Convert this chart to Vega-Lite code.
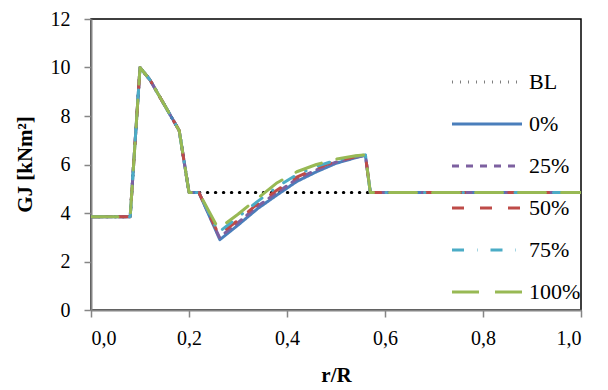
{
  "$schema": "https://vega.github.io/schema/vega-lite/v6.json",
  "width": 490,
  "height": 291,
  "autosize": {"type": "none"},
  "padding": {"left": 91, "top": 19, "right": 27, "bottom": 80},
  "background": "white",
  "config": {
    "view": {"stroke": "#000000", "strokeWidth": 1.5},
    "font": "Liberation Serif",
    "axis": {
      "grid": false,
      "domainColor": "#868686",
      "domainWidth": 2,
      "tickColor": "#868686",
      "tickWidth": 1.5,
      "tickSize": 7,
      "labelFont": "Liberation Serif",
      "labelFontSize": 20,
      "labelColor": "#000000",
      "titleFont": "Liberation Serif",
      "titleFontSize": 21,
      "titleFontWeight": "bold",
      "titleColor": "#000000"
    }
  },
  "data": {
    "values": [
      {"s": "BL", "r": 0, "GJ": 3.85}, {"s": "BL", "r": 0.08, "GJ": 3.85}, {"s": "BL", "r": 0.1, "GJ": 10.0}, {"s": "BL", "r": 0.12, "GJ": 9.5}, {"s": "BL", "r": 0.14, "GJ": 8.8}, {"s": "BL", "r": 0.16, "GJ": 8.1}, {"s": "BL", "r": 0.18, "GJ": 7.4}, {"s": "BL", "r": 0.2, "GJ": 4.85}, {"s": "BL", "r": 1.0, "GJ": 4.85},

      {"s": "0%", "r": 0, "GJ": 3.85}, {"s": "0%", "r": 0.08, "GJ": 3.85}, {"s": "0%", "r": 0.1, "GJ": 10.0}, {"s": "0%", "r": 0.12, "GJ": 9.5}, {"s": "0%", "r": 0.14, "GJ": 8.8}, {"s": "0%", "r": 0.16, "GJ": 8.1}, {"s": "0%", "r": 0.18, "GJ": 7.4}, {"s": "0%", "r": 0.2, "GJ": 4.85}, {"s": "0%", "r": 0.22, "GJ": 4.85},
      {"s": "0%", "r": 0.263, "GJ": 2.9}, {"s": "0%", "r": 0.3, "GJ": 3.5}, {"s": "0%", "r": 0.34, "GJ": 4.18}, {"s": "0%", "r": 0.38, "GJ": 4.75}, {"s": "0%", "r": 0.42, "GJ": 5.3}, {"s": "0%", "r": 0.46, "GJ": 5.7}, {"s": "0%", "r": 0.5, "GJ": 6.05}, {"s": "0%", "r": 0.54, "GJ": 6.28}, {"s": "0%", "r": 0.56, "GJ": 6.38}, {"s": "0%", "r": 0.57, "GJ": 4.85}, {"s": "0%", "r": 1.0, "GJ": 4.85},

      {"s": "25%", "r": 0, "GJ": 3.85}, {"s": "25%", "r": 0.08, "GJ": 3.85}, {"s": "25%", "r": 0.1, "GJ": 10.0}, {"s": "25%", "r": 0.12, "GJ": 9.5}, {"s": "25%", "r": 0.14, "GJ": 8.8}, {"s": "25%", "r": 0.16, "GJ": 8.1}, {"s": "25%", "r": 0.18, "GJ": 7.4}, {"s": "25%", "r": 0.2, "GJ": 4.85}, {"s": "25%", "r": 0.22, "GJ": 4.85},
      {"s": "25%", "r": 0.262, "GJ": 3.0}, {"s": "25%", "r": 0.3, "GJ": 3.6}, {"s": "25%", "r": 0.34, "GJ": 4.28}, {"s": "25%", "r": 0.38, "GJ": 4.85}, {"s": "25%", "r": 0.42, "GJ": 5.4}, {"s": "25%", "r": 0.46, "GJ": 5.78}, {"s": "25%", "r": 0.5, "GJ": 6.1}, {"s": "25%", "r": 0.54, "GJ": 6.3}, {"s": "25%", "r": 0.56, "GJ": 6.38}, {"s": "25%", "r": 0.57, "GJ": 4.85}, {"s": "25%", "r": 1.0, "GJ": 4.85},

      {"s": "50%", "r": 0, "GJ": 3.85}, {"s": "50%", "r": 0.08, "GJ": 3.85}, {"s": "50%", "r": 0.1, "GJ": 10.0}, {"s": "50%", "r": 0.12, "GJ": 9.5}, {"s": "50%", "r": 0.14, "GJ": 8.8}, {"s": "50%", "r": 0.16, "GJ": 8.1}, {"s": "50%", "r": 0.18, "GJ": 7.4}, {"s": "50%", "r": 0.2, "GJ": 4.85}, {"s": "50%", "r": 0.22, "GJ": 4.85},
      {"s": "50%", "r": 0.261, "GJ": 3.1}, {"s": "50%", "r": 0.3, "GJ": 3.7}, {"s": "50%", "r": 0.34, "GJ": 4.38}, {"s": "50%", "r": 0.38, "GJ": 4.95}, {"s": "50%", "r": 0.42, "GJ": 5.48}, {"s": "50%", "r": 0.46, "GJ": 5.85}, {"s": "50%", "r": 0.5, "GJ": 6.14}, {"s": "50%", "r": 0.54, "GJ": 6.32}, {"s": "50%", "r": 0.56, "GJ": 6.39}, {"s": "50%", "r": 0.57, "GJ": 4.85}, {"s": "50%", "r": 1.0, "GJ": 4.85},

      {"s": "75%", "r": 0, "GJ": 3.85}, {"s": "75%", "r": 0.08, "GJ": 3.85}, {"s": "75%", "r": 0.1, "GJ": 10.0}, {"s": "75%", "r": 0.12, "GJ": 9.5}, {"s": "75%", "r": 0.14, "GJ": 8.8}, {"s": "75%", "r": 0.16, "GJ": 8.1}, {"s": "75%", "r": 0.18, "GJ": 7.4}, {"s": "75%", "r": 0.2, "GJ": 4.85}, {"s": "75%", "r": 0.22, "GJ": 4.85},
      {"s": "75%", "r": 0.26, "GJ": 3.2}, {"s": "75%", "r": 0.3, "GJ": 3.82}, {"s": "75%", "r": 0.34, "GJ": 4.48}, {"s": "75%", "r": 0.38, "GJ": 5.08}, {"s": "75%", "r": 0.42, "GJ": 5.58}, {"s": "75%", "r": 0.46, "GJ": 5.92}, {"s": "75%", "r": 0.5, "GJ": 6.18}, {"s": "75%", "r": 0.54, "GJ": 6.34}, {"s": "75%", "r": 0.56, "GJ": 6.39}, {"s": "75%", "r": 0.57, "GJ": 4.85}, {"s": "75%", "r": 1.0, "GJ": 4.85},

      {"s": "100%", "r": 0, "GJ": 3.85}, {"s": "100%", "r": 0.08, "GJ": 3.85}, {"s": "100%", "r": 0.1, "GJ": 10.0}, {"s": "100%", "r": 0.12, "GJ": 9.5}, {"s": "100%", "r": 0.14, "GJ": 8.8}, {"s": "100%", "r": 0.16, "GJ": 8.1}, {"s": "100%", "r": 0.18, "GJ": 7.4}, {"s": "100%", "r": 0.2, "GJ": 4.85}, {"s": "100%", "r": 0.22, "GJ": 4.85},
      {"s": "100%", "r": 0.26, "GJ": 3.35}, {"s": "100%", "r": 0.3, "GJ": 3.95}, {"s": "100%", "r": 0.34, "GJ": 4.6}, {"s": "100%", "r": 0.38, "GJ": 5.25}, {"s": "100%", "r": 0.42, "GJ": 5.7}, {"s": "100%", "r": 0.46, "GJ": 6.0}, {"s": "100%", "r": 0.5, "GJ": 6.22}, {"s": "100%", "r": 0.54, "GJ": 6.36}, {"s": "100%", "r": 0.56, "GJ": 6.4}, {"s": "100%", "r": 0.57, "GJ": 4.85}, {"s": "100%", "r": 1.0, "GJ": 4.85}
    ]
  },
  "mark": {"type": "line", "strokeWidth": 3, "strokeCap": "round", "strokeJoin": "round", "clip": true},
  "encoding": {
    "x": {
      "field": "r", "type": "quantitative",
      "scale": {"domain": [0, 1], "nice": false},
      "axis": {
        "title": "r/R",
        "values": [0, 0.2, 0.4, 0.6, 0.8, 1.0],
        "labelExpr": "replace(format(datum.value, '.1f'), '.', ',')",
        "labelPadding": 11,
        "titleX": 245,
        "titleY": 65,
        "titleBaseline": "middle"
      }
    },
    "y": {
      "field": "GJ", "type": "quantitative",
      "scale": {"domain": [0, 12], "nice": false},
      "axis": {
        "title": "GJ [kNm²]",
        "values": [0, 2, 4, 6, 8, 10, 12],
        "labelPadding": 14,
        "titleX": -66,
        "titleY": 145,
        "titleAngle": -90,
        "titleAlign": "center",
        "titleBaseline": "middle"
      }
    },
    "color": {
      "field": "s", "type": "nominal",
      "scale": {
        "domain": ["BL", "0%", "25%", "50%", "75%", "100%"],
        "range": ["#000000", "#4A7EBB", "#7D60A0", "#BE4B48", "#4BACC6", "#98B954"]
      },
      "legend": {
        "title": null,
        "orient": "none",
        "legendX": 385,
        "legendY": 52,
        "padding": 0,
        "symbolType": "M-5,0H5",
        "symbolSize": 196,
        "symbolStrokeWidth": 3,
        "symbolOpacity": 1,
        "labelFont": "Liberation Serif",
        "labelFontSize": 22,
        "labelColor": "#000000",
        "labelOffset": 31,
        "rowPadding": 20,
        "labelLimit": 200
      }
    },
    "strokeDash": {
      "field": "s", "type": "nominal",
      "scale": {
        "domain": ["BL", "0%", "25%", "50%", "75%", "100%"],
        "range": [[0.5, 7.5], [1, 0], [7, 7], [12, 16], [12, 13, 0.5, 13], [27, 16]]
      },
      "legend": null
    }
  }
}
